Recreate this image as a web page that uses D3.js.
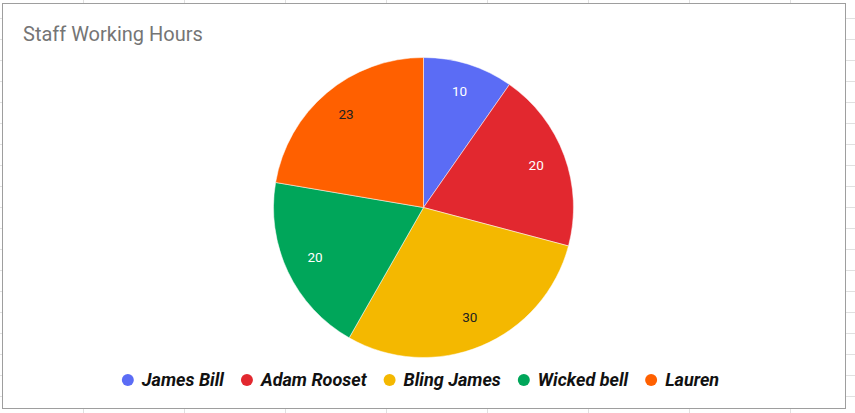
<!DOCTYPE html>
<html>
<head>
<meta charset="utf-8">
<script src="https://cdn.jsdelivr.net/npm/d3@7"></script>
<style>
  html, body { margin: 0; padding: 0; background: #fff; }
  svg { display: block; }
</style>
</head>
<body>
<svg id="chart" width="855" height="413"></svg>
<script>
const title = "Staff Working Hours";
const categories = ["James Bill", "Adam Rooset", "Bling James", "Wicked bell", "Lauren"];
const hours = [10, 20, 30, 20, 23];
const colors = ["#5b6cf5", "#e2282f", "#f4b800", "#00a65a", "#ff6000"];
const labelColors = ["#ffffff", "#ffffff", "#222222", "#ffffff", "#222222"];

const W = 855, H = 413;
const svg = d3.select("#chart");

// spreadsheet grid behind chart
const grid = svg.append("g").attr("stroke", "#e0e0e0").attr("stroke-width", 1);
d3.range(0, 8).forEach(k => {
  const x = 83.5 + 101 * k;
  grid.append("line").attr("x1", x).attr("x2", x).attr("y1", 0).attr("y2", H);
});
d3.range(0, 19).forEach(k => {
  const y = 18.5 + 21 * k;
  grid.append("line").attr("x1", 0).attr("x2", W).attr("y1", y).attr("y2", y);
});

// chart frame
svg.append("rect")
  .attr("x", 2.5).attr("y", 3.5).attr("width", 843).attr("height", 405)
  .attr("fill", "#fff").attr("stroke", "#9e9e9e").attr("stroke-width", 1);

svg.append("text")
  .attr("x", 23).attr("y", 40.5)
  .attr("font-family", "Roboto, sans-serif").attr("font-size", 20)
  .attr("fill", "#757575").text(title);

const cx = 423.5, cy = 207.5, r = 150;
const data = categories.map((c, i) => ({ name: c, value: hours[i], color: colors[i], lc: labelColors[i] }));
const pie = d3.pie().value(d => d.value).sort(null);
const arcs = pie(data);
const arc = d3.arc().innerRadius(0).outerRadius(r);
const labelArc = d3.arc().innerRadius(r * 0.8).outerRadius(r * 0.8);

const g = svg.append("g").attr("transform", `translate(${cx},${cy})`);
g.selectAll("path").data(arcs).join("path")
  .attr("d", arc).attr("fill", d => d.data.color)
  .attr("stroke", "#fff").attr("stroke-width", 0.5);

g.selectAll("text.lbl").data(arcs).join("text")
  .attr("class", "lbl")
  .attr("transform", d => `translate(${labelArc.centroid(d)})`)
  .attr("text-anchor", "middle").attr("dy", "0.25em")
  .attr("font-family", "Roboto, sans-serif").attr("font-size", 13.5)
  .attr("fill", d => d.data.lc)
  .text(d => d.data.value);

// legend
const leg = svg.append("g");
const items = leg.selectAll("g").data(data).join("g");
items.append("circle").attr("r", 6).attr("cy", 0).attr("fill", d => d.color);
items.append("text").attr("x", 14).attr("y", 0).attr("dy", "0.36em")
  .attr("font-family", "Roboto, sans-serif").attr("font-size", 18)
  .attr("font-weight", "bold").attr("font-style", "italic")
  .attr("fill", "#111").text(d => d.name);
let x = 0;
const gap = 23;
const pos = [];
items.each(function(d, i) {
  const tw = d3.select(this).select("text").node().getComputedTextLength();
  pos.push(x);
  x += 14 + tw + (i < data.length - 1 ? gap : 0);
});
const total = x + 6; // include left half of first circle
const centerX = 420.5;
const startX = centerX - total / 2 + 6;
items.attr("transform", (d, i) => `translate(${startX + pos[i]},380)`);
</script>
</body>
</html>
